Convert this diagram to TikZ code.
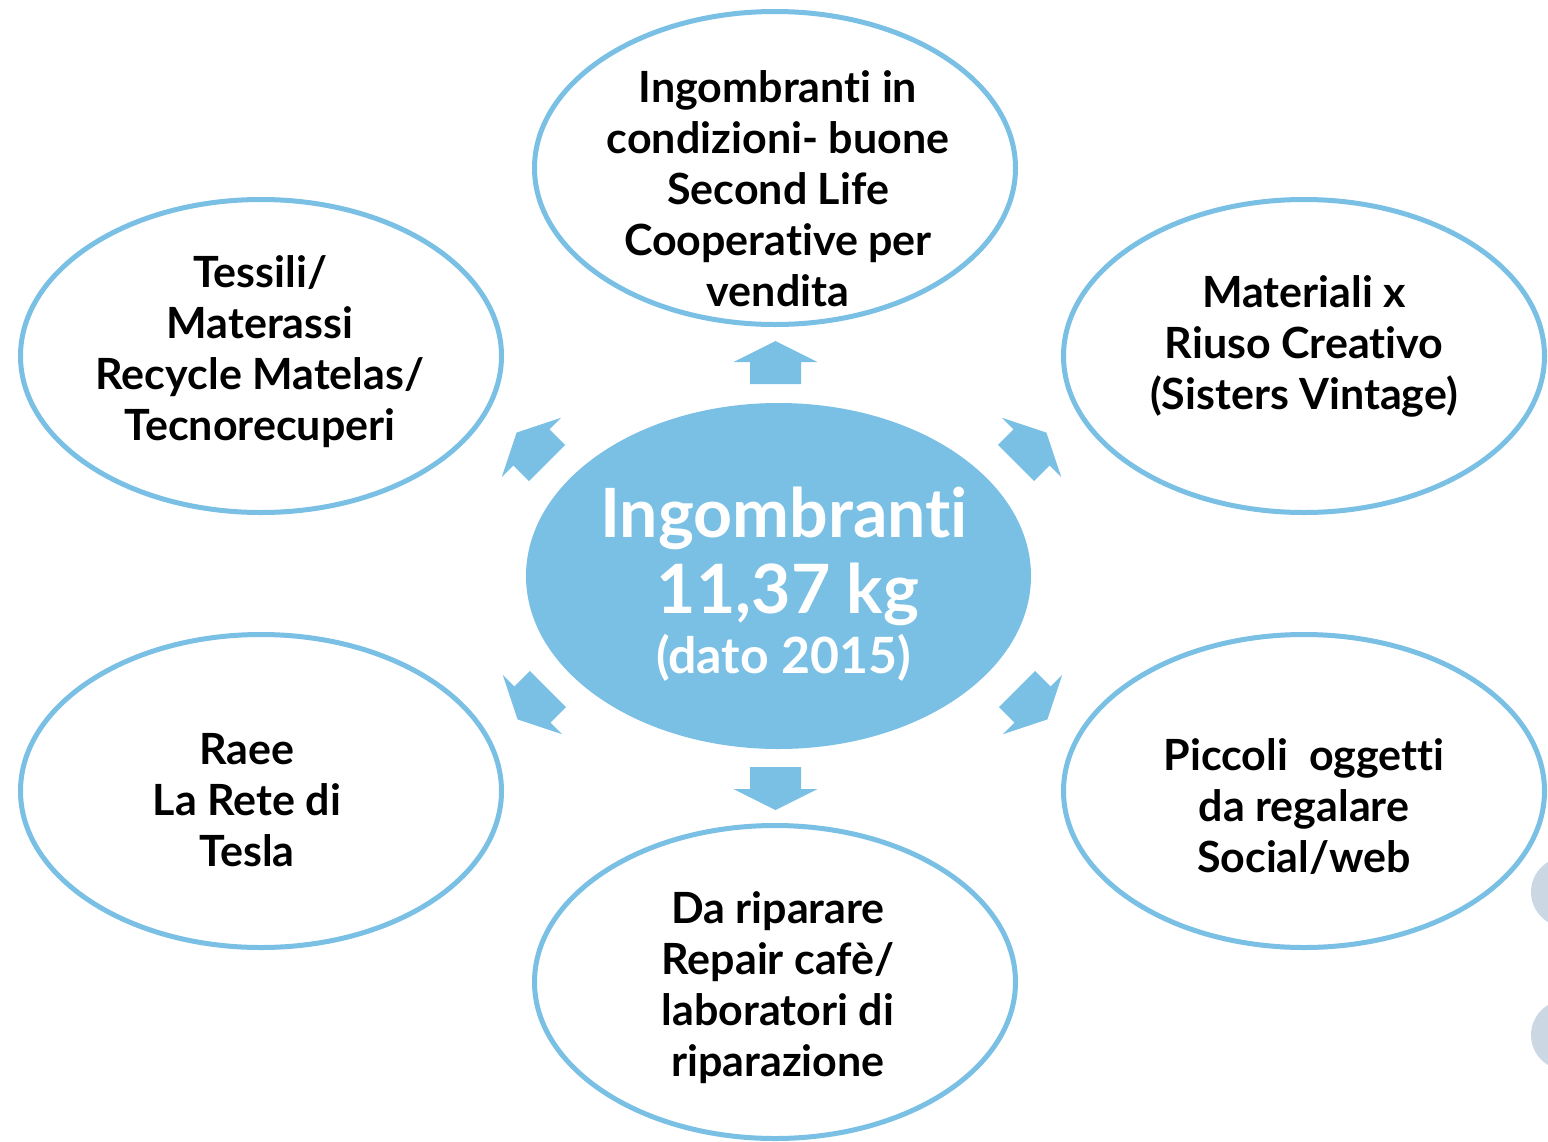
\documentclass[tikz,border=0pt]{standalone}
\usepackage{fontspec}
\setmainfont{Lato}[Ligatures={NoCommon}]
\usetikzlibrary{shapes.geometric}
\definecolor{bl}{RGB}{122,191,228}
\definecolor{gr}{RGB}{203,216,228}
\begin{document}
\begin{tikzpicture}[x=0.5pt,y=-0.5pt,
  outer/.style={ellipse, draw=bl, line width=2.5pt, inner sep=0pt, minimum width=240.5pt, minimum height=156.5pt},
  lbl/.style={align=center, inner sep=0pt, font=\fontsize{21.5}{25.5}\selectfont\bfseries},
  ctr/.style={anchor=base, inner sep=0pt, text=white, font=\bfseries},
  blockarrow/.pic={\fill[bl] (0,-25.5) -- (22,-25.5) -- (22,-42) -- (43,0) -- (22,42) -- (22,25.5) -- (0,25.5) -- cycle;}]
\useasboundingbox (0,0) rectangle (1548,1141);
% background decorations at right edge
\fill[gr] (1566,892) circle[radius=35];
\fill[gr] (1566,1035) circle[radius=35];
% ellipses
\node[outer] (top) at (775,168) {};
\node[outer] (tl) at (261,356) {};
\node[outer] (tr) at (1304,356) {};
\node[outer] (bl) at (261,791) {};
\node[outer] (br) at (1304,791) {};
\node[outer] (bot) at (775,982) {};
\node[ellipse, fill=bl, inner sep=0pt, minimum width=252.5pt, minimum height=173pt] (c) at (778.5,576) {};
% texts
\node[lbl] (ttop) at (778,189) {Ingombranti in\\condizioni- buone\\Second Life\\Cooperative per\\vendita};
\node[lbl] (ttl) at (260,352) {Tessili/\\Materassi\\Recycle Matelas/\\Tecnorecuperi};
\node[lbl] (ttr) at (1304,346) {Materiali x\\Riuso Creativo\\(Sisters Vintage)};
\node[lbl] (tbl) at (247,800) {Raee\\La Rete di\\Tesla};
\node[lbl] (tbr) at (1304,807) {Piccoli~ oggetti\\da regalare\\Social/web};
\node[lbl] (tbot) at (778,988) {Da riparare\\Repair caf\`e/\\laboratori di\\riparazione};
\node[ctr, font=\fontsize{34}{38}\selectfont\bfseries] (tc1) at (784,537) {Ingombranti};
\node[ctr, font=\fontsize{34}{38}\selectfont\bfseries] (tc2) at (788,613) {11,37 kg};
\node[ctr, font=\fontsize{25}{30}\selectfont\bfseries] (tc3) at (783.5,673) {(dato 2015)};
% block arrows
\pic (aup) [rotate=90] at (775.5,384) {blockarrow};
\pic (adn) [rotate=-90] at (775.5,767) {blockarrow};
\pic (atl) [rotate=135] at (547,463) {blockarrow};
\pic (atr) [rotate=45] at (1016,463) {blockarrow};
\pic (abl) [rotate=225] at (548,689) {blockarrow};
\pic (abr) [rotate=-45] at (1017,689) {blockarrow};
\end{tikzpicture}
\end{document}
